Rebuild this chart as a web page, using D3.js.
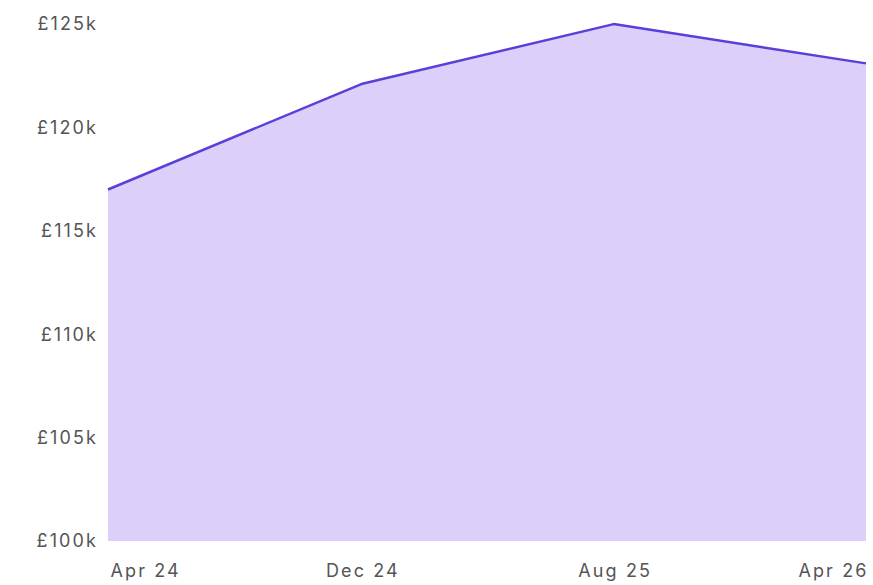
<!DOCTYPE html>
<html>
<head>
<meta charset="utf-8">
<script src="https://cdn.jsdelivr.net/npm/d3@7"></script>
<style>
  body { margin: 0; background: #fff; }
  svg { display: block; }
  .tick text { font-family: Inter, "Noto Sans", sans-serif; font-size: 18px; letter-spacing: 2.1px; fill: #555; }
</style>
</head>
<body>
<svg width="873" height="585"></svg>
<script>
// one point every eight months, valuation in pounds
const dates = ['2024-04-01', '2024-12-01', '2025-08-01', '2026-04-01'];
const values = [117000, 122100, 125000, 123100];
const xTickLabels = ['Apr 24', 'Dec 24', 'Aug 25', 'Apr 26'];
const yTicks = [100000, 105000, 110000, 115000, 120000, 125000];

const margin = { top: 21, right: 7, bottom: 44, left: 108 };
const svg = d3.select('svg');
const width = +svg.attr('width') - margin.left - margin.right;
const height = +svg.attr('height') - margin.top - margin.bottom;

const parse = d3.timeParse('%Y-%m-%d');
const data = dates.map((d, i) => ({ date: parse(d), value: values[i] }));

const x = d3.scaleTime()
  .domain(d3.extent(data, d => d.date))
  .range([0, width]);
const y = d3.scaleLinear()
  .domain([100000, 125150])
  .range([height, 0]);

const g = svg.append('g').attr('transform', `translate(${margin.left},${margin.top})`);

const area = d3.area()
  .x(d => x(d.date))
  .y0(height)
  .y1(d => y(d.value));
const line = d3.line()
  .x(d => x(d.date))
  .y(d => y(d.value));

g.append('path')
  .datum(data)
  .attr('fill', '#dccffa')
  .attr('d', area);
g.append('path')
  .datum(data)
  .attr('fill', 'none')
  .attr('stroke', '#5a3fd8')
  .attr('stroke-width', 2.5)
  .attr('stroke-linejoin', 'round')
  .attr('d', line);

// y axis, labels only (padding allows for the trailing letter-spacing)
const yAxis = g.append('g')
  .call(d3.axisLeft(y)
    .tickValues(yTicks)
    .tickSize(0)
    .tickPadding(10)
    .tickFormat(d => '£' + d / 1000 + 'k'));
yAxis.select('.domain').remove();

// x axis, labels only; first and last pinned to the edges
const xAxis = g.append('g')
  .attr('transform', `translate(0,${height})`)
  .call(d3.axisBottom(x)
    .tickValues(data.map(d => d.date))
    .tickSize(0)
    .tickPadding(23)
    .tickFormat((d, i) => xTickLabels[i]));
xAxis.select('.domain').remove();
xAxis.selectAll('.tick text')
  .attr('text-anchor', (d, i) => i === 0 ? 'start' : i === xTickLabels.length - 1 ? 'end' : 'middle')
  .attr('dx', (d, i) => i === 0 ? 2 : i === xTickLabels.length - 1 ? 2 : 1);
</script>
</body>
</html>
